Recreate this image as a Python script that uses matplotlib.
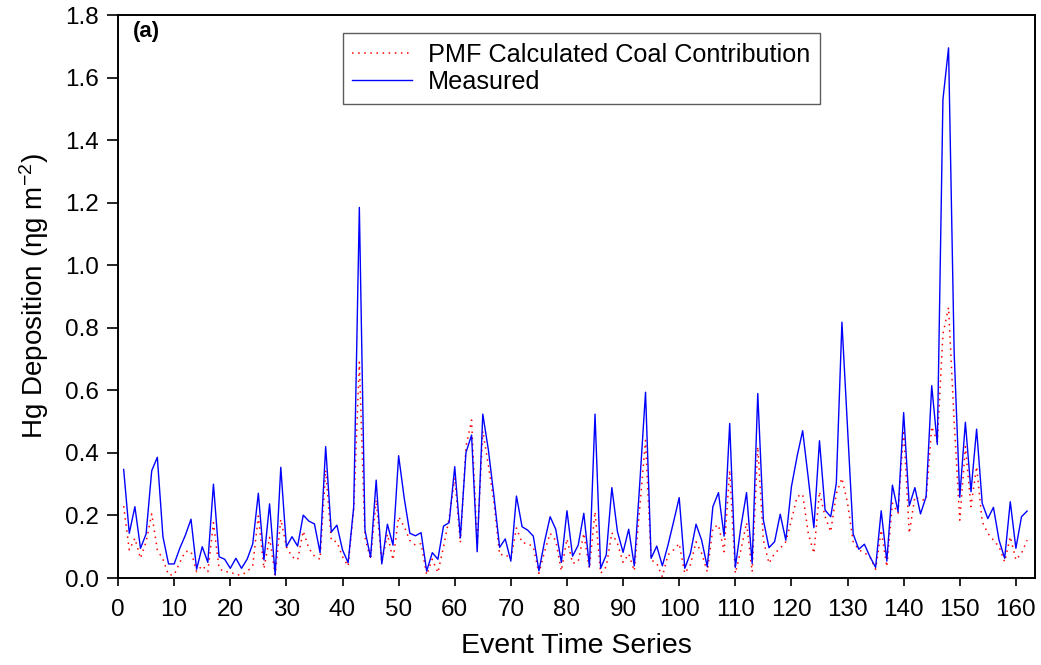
import matplotlib
matplotlib.use("Agg")
import matplotlib.pyplot as plt
import numpy as np

plt.rcParams['font.family'] = ['Liberation Sans', 'DejaVu Sans']
plt.rcParams['mathtext.fontset'] = 'custom'
plt.rcParams['mathtext.rm'] = 'Liberation Sans'
plt.rcParams['mathtext.it'] = 'Liberation Sans:italic'

events = list(range(1, 163))

measured = [
    0.347, 0.143, 0.228, 0.095, 0.141, 0.343, 0.386, 0.132, 0.045, 0.045,
    0.095, 0.137, 0.188, 0.028, 0.100, 0.050, 0.300, 0.068, 0.060, 0.031,
    0.063, 0.031, 0.060, 0.109, 0.271, 0.058, 0.237, 0.010, 0.354, 0.100,
    0.132, 0.102, 0.201, 0.182, 0.173, 0.081, 0.420, 0.147, 0.169, 0.090,
    0.049, 0.228, 1.185, 0.153, 0.066, 0.313, 0.045, 0.172, 0.105, 0.391,
    0.255, 0.143, 0.135, 0.145, 0.022, 0.081, 0.060, 0.166, 0.177, 0.356,
    0.129, 0.401, 0.457, 0.084, 0.524, 0.409, 0.260, 0.098, 0.125, 0.054,
    0.262, 0.164, 0.153, 0.134, 0.023, 0.116, 0.196, 0.156, 0.050, 0.215,
    0.070, 0.105, 0.207, 0.036, 0.524, 0.031, 0.074, 0.289, 0.148, 0.082,
    0.156, 0.039, 0.310, 0.594, 0.063, 0.102, 0.039, 0.105, 0.180, 0.257,
    0.031, 0.079, 0.172, 0.121, 0.036, 0.228, 0.273, 0.134, 0.494, 0.034,
    0.164, 0.273, 0.047, 0.590, 0.185, 0.097, 0.116, 0.204, 0.121, 0.292,
    0.388, 0.471, 0.320, 0.161, 0.439, 0.217, 0.196, 0.303, 0.818, 0.480,
    0.141, 0.092, 0.108, 0.068, 0.034, 0.215, 0.054, 0.297, 0.212, 0.529,
    0.231, 0.289, 0.205, 0.260, 0.615, 0.427, 1.530, 1.695, 0.720, 0.258,
    0.498, 0.276, 0.476, 0.239, 0.190, 0.226, 0.121, 0.063, 0.244, 0.095,
    0.196, 0.214,
]

pmf_coal = [
    0.230, 0.090, 0.127, 0.063, 0.116, 0.205, 0.090, 0.060, 0.010, 0.010,
    0.050, 0.085, 0.085, 0.020, 0.040, 0.020, 0.177, 0.030, 0.020, 0.020,
    0.010, 0.010, 0.020, 0.040, 0.198, 0.030, 0.130, 0.010, 0.188, 0.100,
    0.068, 0.058, 0.150, 0.095, 0.070, 0.060, 0.345, 0.120, 0.116, 0.068,
    0.038, 0.220, 0.690, 0.130, 0.060, 0.250, 0.050, 0.140, 0.058, 0.196,
    0.164, 0.120, 0.105, 0.110, 0.010, 0.060, 0.017, 0.100, 0.190, 0.320,
    0.113, 0.420, 0.505, 0.105, 0.470, 0.360, 0.240, 0.074, 0.076, 0.060,
    0.160, 0.113, 0.110, 0.100, 0.015, 0.084, 0.143, 0.120, 0.023, 0.125,
    0.047, 0.052, 0.143, 0.030, 0.212, 0.015, 0.036, 0.145, 0.110, 0.050,
    0.077, 0.023, 0.230, 0.440, 0.058, 0.047, 0.004, 0.074, 0.090, 0.110,
    0.015, 0.042, 0.116, 0.079, 0.020, 0.160, 0.170, 0.084, 0.345, 0.015,
    0.090, 0.177, 0.020, 0.420, 0.121, 0.047, 0.079, 0.095, 0.116, 0.185,
    0.260, 0.268, 0.143, 0.079, 0.276, 0.196, 0.148, 0.270, 0.319, 0.240,
    0.116, 0.090, 0.081, 0.068, 0.028, 0.153, 0.036, 0.239, 0.207, 0.473,
    0.143, 0.260, 0.250, 0.250, 0.484, 0.436, 0.780, 0.865, 0.500, 0.185,
    0.420, 0.228, 0.356, 0.180, 0.143, 0.121, 0.100, 0.052, 0.132, 0.058,
    0.079, 0.121,
]

x_ticks = list(range(0, 161, 10))
y_ticks = [0.0, 0.2, 0.4, 0.6, 0.8, 1.0, 1.2, 1.4, 1.6, 1.8]

fig = plt.figure(figsize=(10.41, 6.65), dpi=100)
ax = fig.add_axes([0.1134, 0.1308, 0.8808, 0.8466])

ax.plot(events, pmf_coal, color='#ff0000', linestyle=(0, (1, 3)), lw=1.1,
        label='PMF Calculated Coal Contribution')
ax.plot(events, measured, color='#0000ff', linestyle='-', lw=1.0,
        label='Measured')

ax.set_xlim(0, 163.4)
ax.set_ylim(0, 1.8)
ax.set_xticks(x_ticks)
ax.set_yticks(y_ticks)
ax.set_yticklabels([f'{v:.1f}' for v in y_ticks])

ax.tick_params(axis='x', direction='out', length=6, width=1.2, labelsize=17.5, pad=9)
ax.tick_params(axis='y', direction='out', length=8, width=1.2, labelsize=17.5, pad=6)
for s in ax.spines.values():
    s.set_linewidth(1.4)

ax.set_xlabel('Event Time Series', fontsize=20.5, labelpad=9)
ax.set_ylabel('Hg Deposition (ηg m$^{\\mathrm{-2}}$)', fontsize=20, labelpad=10)

ax.text(0.016, 0.99, '(a)', transform=ax.transAxes, fontsize=16,
        fontweight='bold', va='top', ha='left')

leg = ax.legend(loc='upper left', bbox_to_anchor=(0.245, 0.968), fontsize=18.2,
                handlelength=2.35, handletextpad=0.65, labelspacing=0.13,
                borderpad=0.38, borderaxespad=0, frameon=True, fancybox=False)
leg.get_frame().set_edgecolor('#333333')
leg.get_frame().set_linewidth(1.0)

fig.savefig('out.png', dpi=100)
